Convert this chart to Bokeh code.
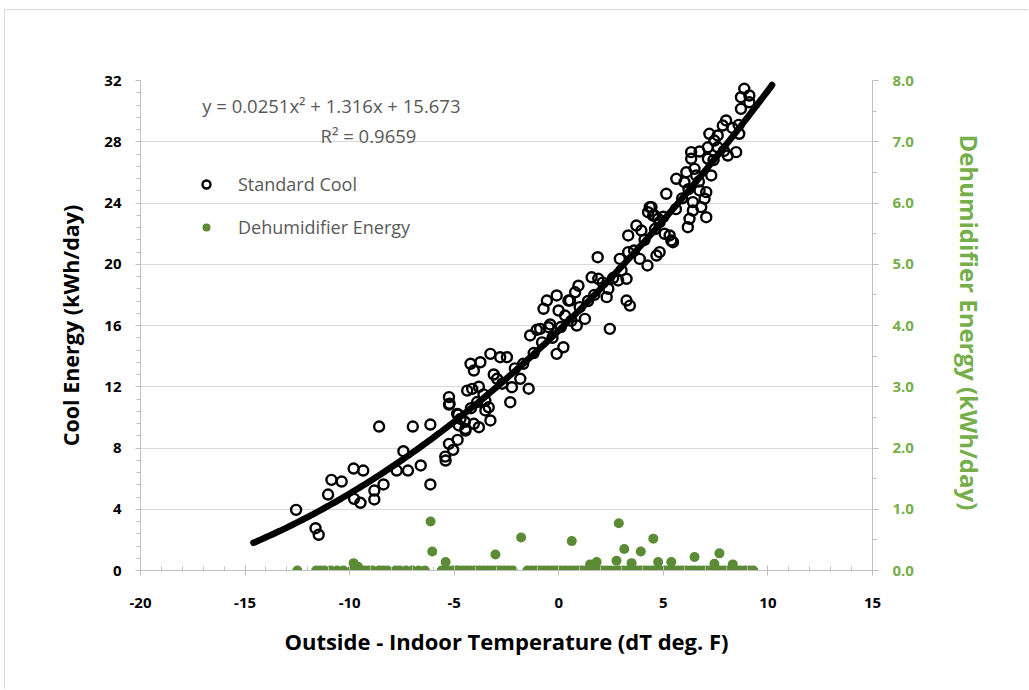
import numpy as np
from bokeh.plotting import figure
from bokeh.models import (Range1d, LinearAxis, FixedTicker, NumeralTickFormatter,
                          Legend, LegendItem, Label, ColumnDataSource)
from bokeh.embed import file_html
from bokeh.resources import INLINE

# ---------------- data ----------------
cool_dt = [
    -12.56, -11.63, -11.48, -11.03, -10.87, -10.38, -9.81, -9.35, -9.79, -9.48,
    -8.82, -8.82, -8.38, -8.59, -7.43, -7.75, -7.21, -6.60, -6.14, -6.98,
    -6.14, -5.25, -5.43, -5.41, -5.25, -5.05, -4.84, -4.81, -4.49, -4.46,
    -5.25, -5.22, -4.86, -4.78, -4.46, -4.06, -3.82, -4.38, -4.14, -3.82,
    -4.22, -4.06, -3.75, -3.51, -3.51, -3.35, -3.27, -3.27, -2.80, -2.48,
    -3.11, -2.95, -2.32, -2.24, -1.84, -1.44, -1.37, -1.05, -0.89, -0.73,
    -0.49, -0.41, -0.10, 0.22, -0.01, 0.30, 0.46, 0.86, 1.25, 2.44,
    3.24, 3.40, 1.86, 0.94, 0.78, 0.54, -0.10, -0.57, 1.57, 1.89,
    2.37, 2.29, 2.84, 3.24, 2.92, 3.32, 3.32, 3.71, 3.95, 3.87,
    4.24, 4.67, 4.82, 4.35, 4.51, 4.75, 5.30, 5.46, 8.87, 8.71,
    9.11, 8.71, 9.11, 8.00, 7.84, 7.60, 7.20, 7.44, 8.63, 7.13,
    7.60, 8.08, 8.48, 6.33, 6.33, 6.73, 7.13, 5.62, 6.01, 6.10,
    6.49, 6.57, 7.29, 5.14, 4.43, 4.27, 4.59, 4.82, 6.41, 6.73,
    7.05, 6.97, 6.81, 6.41, 6.25, 6.17, 7.05, 5.38, 5.06,
    -4.70, -4.20, -3.90, -3.60, -2.70, -2.10, -1.70, -1.20, -0.80, -0.30,
    0.10, 0.60, 1.00, 1.40, 1.70, 2.10, 2.60, 3.00, 3.60, 4.10,
    4.60, 5.00, 5.60, 5.90, 6.20, 6.70, 7.40, 7.90, 8.30, 8.60,
]
cool_kwh = [
    3.96, 2.76, 2.33, 4.96, 5.92, 5.81, 6.66, 6.53, 4.68, 4.42,
    4.64, 5.22, 5.62, 9.40, 7.79, 6.53, 6.53, 6.86, 5.62, 9.40,
    9.53, 10.84, 7.44, 7.18, 8.27, 7.88, 8.53, 10.19, 9.71, 9.14,
    11.32, 10.89, 10.23, 9.47, 9.25, 9.58, 9.36, 11.75, 11.86, 12.00,
    13.50, 13.06, 13.60, 11.10, 10.45, 10.66, 9.80, 14.15, 13.93, 13.93,
    12.80, 12.52, 10.99, 11.97, 12.52, 11.87, 15.35, 15.72, 15.78, 17.09,
    15.89, 16.07, 14.15, 14.58, 16.98, 16.65, 17.63, 16.00, 16.43, 15.78,
    17.63, 17.30, 20.46, 18.60, 18.17, 17.63, 17.96, 17.63, 19.15, 19.05,
    18.40, 17.85, 18.94, 19.05, 20.35, 20.79, 21.88, 22.53, 22.20, 20.35,
    19.92, 20.57, 20.79, 23.73, 23.18, 22.97, 21.88, 21.44, 31.46, 30.91,
    31.02, 30.15, 30.58, 29.39, 29.06, 28.41, 28.52, 28.08, 28.52, 27.64,
    27.64, 27.10, 27.32, 27.32, 26.89, 27.36, 26.89, 25.58, 25.36, 26.01,
    26.23, 25.80, 25.80, 24.60, 23.73, 23.40, 23.18, 22.75, 24.06, 24.82,
    24.71, 24.28, 23.73, 23.51, 22.97, 22.42, 23.07, 21.55, 21.99,
    9.90, 10.60, 11.00, 11.50, 12.20, 13.20, 13.50, 14.20, 14.90, 15.20,
    15.90, 16.30, 17.20, 17.60, 18.00, 18.80, 19.10, 19.60, 20.90, 21.60,
    22.30, 23.10, 23.60, 24.30, 24.90, 25.40, 26.80, 27.40, 28.90, 29.10,
]

# dehumidifier: days with zero energy (dT only) ...
dehum_zero_dt = [
    -12.50, -11.60, -11.40, -11.20, -10.90, -10.60, -10.30,
    -9.90, -9.70, -9.50, -9.30, -9.10, -8.90, -8.60, -8.40, -8.20,
    -7.80, -7.60, -7.30, -7.00, -6.70, -6.40,
    -5.60, -5.40, -5.30, -5.10, -4.90, -4.80, -4.60, -4.40, -4.20, -4.00,
    -3.80, -3.60, -3.40, -3.20, -3.00, -2.80, -2.60, -2.40, -2.20,
    -1.50, -1.30, -1.10, -0.90, -0.70, -0.50, -0.30, -0.10, 0.10, 0.30,
    0.50, 0.70, 0.90, 1.10, 1.30, 1.50, 1.70, 1.90, 2.10, 2.30,
    2.50, 2.70, 2.90, 3.10, 3.30, 3.50, 3.70, 3.90, 4.10, 4.30,
    4.50, 4.70, 4.90, 5.10, 5.30, 5.50, 5.70, 5.90, 6.10, 6.30,
    6.50, 6.70, 6.90, 7.10, 7.30, 7.50, 7.70, 7.90, 8.10, 8.30,
    8.50, 8.70, 8.90, 9.10, 9.30,
]
# ... and days with some dehumidifier energy
dehum_on_dt = [
    -6.13, -6.05, -3.03, -1.80, 0.62, -9.81, -5.41, 2.87, 3.13, 3.92,
    4.52, 7.68, 1.81, 2.76, 3.48, 4.75, 5.38, 6.49, 7.44, 8.32,
    1.50, -9.60,
]
dehum_on_kwh = [
    0.80, 0.31, 0.26, 0.54, 0.48, 0.12, 0.14, 0.77, 0.35, 0.31,
    0.52, 0.28, 0.14, 0.16, 0.12, 0.14, 0.14, 0.22, 0.11, 0.10,
    0.10, 0.06,
]
dehum_dt = dehum_zero_dt + dehum_on_dt
dehum_kwh = [0.0] * len(dehum_zero_dt) + dehum_on_kwh

# Excel polynomial trendline as printed on the chart
fit_coef = [0.0251, 1.316, 15.673]
fit_r2 = 0.9659
fit_x_range = [-14.6, 10.2]

x_ticks = [-20, -15, -10, -5, 0, 5, 10, 15]
y_ticks = [0, 4, 8, 12, 16, 20, 24, 28, 32]
y2_ticks = [0, 1, 2, 3, 4, 5, 6, 7, 8]

# ---------------- styling ----------------
FONT = "Open Sans"
GREEN_DOT = "#5B8C35"
GREEN_TXT = "#76AE4B"
GRAY_TXT = "#595959"
AXIS_GRAY = "#BFBFBF"

p = figure(width=1024, height=680, output_backend="svg", toolbar_location=None,
           x_range=Range1d(-20, 15), y_range=Range1d(0, 32),
           min_border_left=135, min_border_right=157,
           min_border_top=70, min_border_bottom=120)
p.styles = {"margin-left": "4px", "margin-top": "9px",
            "border-top": "1px solid #D9D9D9", "border-left": "1px solid #D9D9D9"}
p.extra_y_ranges = {"dehum": Range1d(0, 8)}
p.outline_line_color = None
p.background_fill_color = "white"
p.border_fill_color = "white"

# grid
p.xgrid.visible = False
p.ygrid.ticker = FixedTicker(ticks=y_ticks)
p.ygrid.grid_line_color = "#D9D9D9"
p.ygrid.grid_line_width = 1

# bottom axis
xa = p.xaxis[0]
xa.ticker = FixedTicker(ticks=x_ticks, minor_ticks=list(range(-20, 16)))
xa.formatter = NumeralTickFormatter(format="0")
xa.axis_label = "Outside - Indoor Temperature (dT deg. F)"
# left axis
ya = p.yaxis[0]
ya.ticker = FixedTicker(ticks=y_ticks, minor_ticks=[round(0.8 * i, 2) for i in range(41)])
ya.axis_label = "Cool Energy (kWh/day)"

for ax in (xa, ya):
    ax.axis_line_color = AXIS_GRAY
    ax.major_tick_line_color = AXIS_GRAY
    ax.minor_tick_line_color = AXIS_GRAY
    ax.major_label_text_font = FONT
    ax.major_label_text_font_style = "bold"
    ax.major_label_text_font_size = "15px"
    ax.major_label_text_color = "black"
    ax.axis_label_text_font = FONT
    ax.axis_label_text_font_style = "bold"
    ax.axis_label_text_color = "black"

xa.axis_label_text_font_size = "22px"
ya.axis_label_text_font_size = "21.5px"

xa.major_tick_in = 5
xa.major_tick_out = 5
xa.minor_tick_in = 4
xa.minor_tick_out = 0
xa.major_label_standoff = 22
xa.axis_label_standoff = 15

ya.major_tick_in = 0
ya.major_tick_out = 5
ya.minor_tick_in = 0
ya.minor_tick_out = 4
ya.major_label_standoff = 14
ya.axis_label_standoff = 16

# right axis
ra = LinearAxis(y_range_name="dehum",
                ticker=FixedTicker(ticks=y2_ticks, minor_ticks=[0.5 * i for i in range(17)]),
                formatter=NumeralTickFormatter(format="0.0"),
                axis_label="Dehumidifier Energy  (kWh/day)")
ra.axis_line_color = AXIS_GRAY
ra.major_tick_line_color = AXIS_GRAY
ra.minor_tick_line_color = AXIS_GRAY
ra.major_tick_in = 0
ra.major_tick_out = 6
ra.minor_tick_in = 0
ra.minor_tick_out = 4
ra.major_label_text_font = FONT
ra.major_label_text_font_style = "bold"
ra.major_label_text_font_size = "15px"
ra.major_label_text_color = GREEN_TXT
ra.major_label_standoff = 14
ra.axis_label_text_font = FONT
ra.axis_label_text_font_style = "bold"
ra.axis_label_text_font_size = "24px"
ra.axis_label_text_color = GREEN_TXT
ra.axis_label_standoff = 36
p.add_layout(ra, "right")

# series
src_cool = ColumnDataSource(dict(x=cool_dt, y=cool_kwh))
src_dehum = ColumnDataSource(dict(x=dehum_dt, y=dehum_kwh))

r_cool = p.scatter("x", "y", source=src_cool, marker="circle", size=10,
                   fill_color=None, line_color="black", line_width=2.4)
r_dehum = p.scatter("x", "y", source=src_dehum, marker="circle", size=10,
                    fill_color=GREEN_DOT, line_color=None, y_range_name="dehum")

fx = np.linspace(fit_x_range[0], fit_x_range[1], 200)
fy = np.polyval(fit_coef, fx)
p.line(fx, fy, line_color="black", line_width=6.5, line_cap="round")

# equation
p.add_layout(Label(x=-17.05, y=30.37, x_units="data", y_units="data",
                   text="y = 0.0251x\u00b2  + 1.316x + 15.673",
                   text_font=FONT, text_font_size="18.5px", text_color=GRAY_TXT,
                   text_baseline="middle"))
p.add_layout(Label(x=-9.1, y=28.41, x_units="data", y_units="data",
                   text="R\u00b2 = %.4f" % fit_r2, text_align="center",
                   text_font=FONT, text_font_size="18.5px", text_color=GRAY_TXT,
                   text_baseline="middle"))

legend = Legend(items=[LegendItem(label="Standard Cool", renderers=[r_cool]),
                       LegendItem(label="Dehumidifier Energy", renderers=[r_dehum])],
                location=(56, 331))
legend.border_line_color = None
legend.background_fill_alpha = 0
legend.padding = 0
legend.margin = 0
legend.spacing = 19
legend.glyph_width = 20
legend.glyph_height = 20
legend.label_height = 20
legend.label_standoff = 22
legend.label_text_font = FONT
legend.label_text_font_size = "18px"
legend.label_text_color = GRAY_TXT
p.add_layout(legend, "center")

open("out.html", "w").write(file_html(p, INLINE))
